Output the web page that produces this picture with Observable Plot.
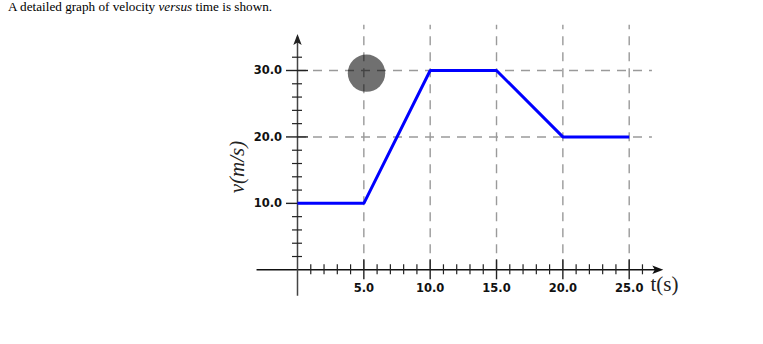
<!DOCTYPE html>
<html>
<head>
<meta charset="utf-8">
<script src="https://cdn.jsdelivr.net/npm/d3@7"></script>
<script src="https://cdn.jsdelivr.net/npm/@observablehq/plot@0.6"></script>
<style>
  body { margin: 0; background: #fff; }
  #wrap { position: relative; width: 763px; height: 344px; overflow: hidden; }
  #chart { position: absolute; left: 0; top: 0; }
  #title { position: absolute; left: 8px; top: -1px; font: 13.2px "Liberation Serif", "Times New Roman", serif; color: #000; white-space: nowrap; line-height: normal; }
</style>
</head>
<body>
<div id="wrap">
  <div id="chart"></div>
  <div id="title">A detailed graph of velocity <i>versus</i> time is shown.</div>
</div>
<script>
// ---- data ----
const times = [0, 5, 10, 15, 20, 25];          // s
const velocities = [10, 10, 30, 30, 20, 20];   // m/s
const majorTicksX = [5, 10, 15, 20, 25];
const minorTicksX = [1, 2, 3, 4, 6, 7, 8, 9, 11, 12, 13, 14, 16, 17, 18, 19, 21, 22, 23, 24, 26];
const majorTicksY = [10, 20, 30];
const minorTicksY = [2, 4, 6, 8, 12, 14, 16, 18, 22, 24, 26, 28, 32];
const gridX = [5, 10, 15, 20, 25];
const gridY = [20, 30];
const markerT = [5.2];
const markerV = [29.6];
const xLabel = "t(s)";
const yLabel = "v(m/s)";

const series = times.map((t, i) => ({t, v: velocities[i]}));
const marker = markerT.map((t, i) => ({t, v: markerV[i]}));

const axisColor = "#222";
const gridStyle = {stroke: "#9a9a9a", strokeWidth: 1.4, strokeDasharray: "9,7"};
const tickFont = {fontFamily: "DejaVu Sans", fontWeight: "bold", fontSize: 11.5, fill: "#111"};
const serifFont = '"Liberation Serif", "Times New Roman", serif';

// filled arrow head, tip at the origin, pointing up
const arrowHead = {
  draw(ctx) {
    ctx.moveTo(0, 0);
    ctx.lineTo(4.2, 11);
    ctx.lineTo(0, 8.5);
    ctx.lineTo(-4.2, 11);
    ctx.closePath();
  }
};

const chart = Plot.plot({
  width: 763,
  height: 344,
  marginLeft: 297,
  marginRight: 134.3,
  marginTop: 70,
  marginBottom: 74.7,
  style: {background: "white", overflow: "visible"},
  x: {domain: [0, 25], axis: null},
  y: {domain: [0, 30], axis: null},
  marks: [
    // dashed grid
    Plot.ruleX(gridX, {y1: 0, y2: 36.8, ...gridStyle}),
    Plot.ruleY(gridY, {x1: 0, x2: 26.75, ...gridStyle}),
    // marker circle
    Plot.dot(marker, {x: "t", y: "v", r: 18.7, fill: "#000", fillOpacity: 0.56, stroke: "none"}),
    // axis lines
    Plot.ruleY([0], {x1: -3.05, x2: 27.2, stroke: "#111", strokeWidth: 1.5}),
    Plot.ruleX([0], {y1: -4, y2: 35, stroke: "#444", strokeWidth: 1.5}),
    // ticks
    Plot.axisX({ticks: minorTicksX, anchor: "bottom", tickSize: 10, dy: -5, fill: "none", stroke: axisColor, strokeWidth: 1.2, label: null}),
    Plot.axisX({ticks: majorTicksX, anchor: "bottom", tickSize: 20, dy: -10, fill: "none", stroke: axisColor, strokeWidth: 1.4, label: null}),
    Plot.axisY({ticks: minorTicksY, anchor: "left", tickSize: 10, dx: 5, fill: "none", stroke: axisColor, strokeWidth: 1.2, label: null}),
    Plot.axisY({ticks: majorTicksY, anchor: "left", tickSize: 22, dx: 11, fill: "none", stroke: axisColor, strokeWidth: 1.4, label: null}),
    // tick labels
    Plot.axisX({ticks: majorTicksX, anchor: "bottom", tickSize: 0, tickPadding: 14, tickFormat: d => d.toFixed(1), ...tickFont, label: null}),
    Plot.axisY({ticks: majorTicksY, anchor: "left", tickSize: 0, tickPadding: 15.5, tickFormat: d => d.toFixed(1), ...tickFont, label: null}),
    // the velocity line
    Plot.line(series, {x: "t", y: "v", stroke: "#0000ff", strokeWidth: 3, strokeLinejoin: "miter", strokeLinecap: "butt"}),
    // arrow heads
    Plot.dot([{t: 0, v: 35.5}], {x: "t", y: "v", symbol: arrowHead, r: 5, fill: "#222", stroke: "none"}),
    Plot.dot([{t: 27.57, v: 0}], {x: "t", y: "v", symbol: arrowHead, r: 5, rotate: 90, fill: "#111", stroke: "none"}),
    // axis titles
    Plot.text([xLabel], {x: 26.6, y: -2.2, text: d => d, textAnchor: "start", fontSize: 21, fontFamily: serifFont, fill: "#222"}),
    Plot.text([yLabel], {x: -4.52, y: 15.47, text: d => d, rotate: -90, fontSize: 21, fontFamily: serifFont, fontStyle: "italic", fill: "#222"})
  ]
});

document.getElementById("chart").appendChild(chart);
</script>
</body>
</html>
